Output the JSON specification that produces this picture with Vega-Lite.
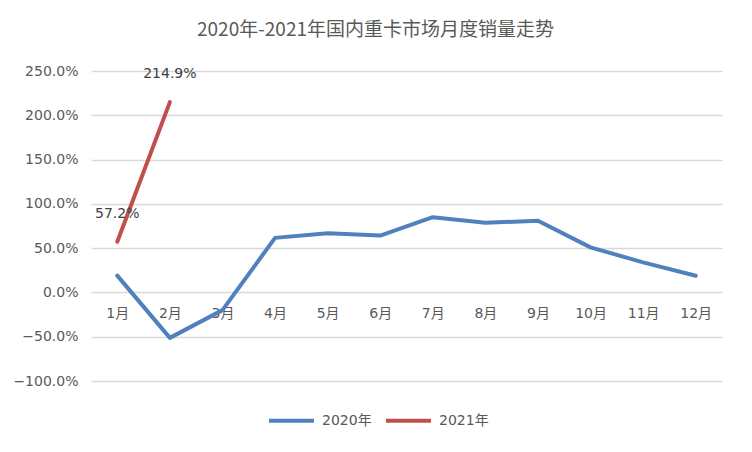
{
  "$schema": "https://vega.github.io/schema/vega-lite/v6.json",
  "width": 631,
  "height": 310,
  "autosize": {"type": "none"},
  "padding": {"left": 91, "top": 71, "right": 30, "bottom": 71},
  "background": "white",
  "config": {
    "view": {"stroke": null},
    "font": "DejaVu Sans, Noto Sans CJK SC",
    "text": {"font": "DejaVu Sans, Noto Sans CJK SC"}
  },
  "title": {
    "text": "2020年-2021年国内重卡市场月度销量走势",
    "fontSize": 19,
    "fontWeight": "normal",
    "color": "#595959",
    "font": "Noto Sans CJK SC",
    "anchor": "middle",
    "dx": -31,
    "offset": 24
  },
  "data": {
    "values": [
      {"month": "1月", "series": "2020年", "value": 0.19},
      {"month": "2月", "series": "2020年", "value": -0.513},
      {"month": "3月", "series": "2020年", "value": -0.2},
      {"month": "4月", "series": "2020年", "value": 0.616},
      {"month": "5月", "series": "2020年", "value": 0.668},
      {"month": "6月", "series": "2020年", "value": 0.642},
      {"month": "7月", "series": "2020年", "value": 0.85},
      {"month": "8月", "series": "2020年", "value": 0.786},
      {"month": "9月", "series": "2020年", "value": 0.809},
      {"month": "10月", "series": "2020年", "value": 0.509},
      {"month": "11月", "series": "2020年", "value": 0.339},
      {"month": "12月", "series": "2020年", "value": 0.188},
      {"month": "1月", "series": "2021年", "value": 0.572, "label": "57.2%"},
      {"month": "2月", "series": "2021年", "value": 2.149, "label": "214.9%"}
    ]
  },
  "encoding": {
    "x": {
      "field": "month",
      "type": "nominal",
      "sort": ["1月","2月","3月","4月","5月","6月","7月","8月","9月","10月","11月","12月"],
      "scale": {"type": "point", "padding": 0.5},
      "axis": {
        "title": null,
        "orient": "bottom",
        "offset": -89,
        "domain": false,
        "ticks": false,
        "labelAngle": 0,
        "labelFontSize": 14,
        "labelColor": "#595959",
        "labelPadding": 14,
        "grid": false
      }
    },
    "y": {
      "field": "value",
      "type": "quantitative",
      "scale": {"domain": [-1, 2.5], "nice": false},
      "axis": {
        "title": null,
        "values": [-1, -0.5, 0, 0.5, 1, 1.5, 2, 2.5],
        "format": ".1%",
        "domain": false,
        "ticks": false,
        "labelFontSize": 14,
        "labelColor": "#595959",
        "labelPadding": 13,
        "gridColor": "#d9d9d9",
        "gridWidth": 1.3
      }
    }
  },
  "layer": [
    {
      "mark": {"type": "line", "strokeWidth": 4, "strokeCap": "round", "strokeJoin": "round"},
      "encoding": {
        "color": {
          "field": "series",
          "type": "nominal",
          "scale": {"domain": ["2020年", "2021年"], "range": ["#4f81bd", "#c0504d"]},
          "legend": {
            "title": null,
            "orient": "none",
            "direction": "horizontal",
            "legendX": 176,
            "legendY": 325,
            "symbolType": "stroke",
            "symbolStrokeWidth": 4,
            "symbolSize": 2025,
            "labelFontSize": 14,
            "labelColor": "#595959",
            "labelOffset": 6,
            "columnPadding": 6
          }
        }
      }
    },
    {
      "transform": [{"filter": "datum.label != null"}],
      "mark": {"type": "text", "fontSize": 14, "color": "#404040", "dy": -28},
      "encoding": {"text": {"field": "label"}}
    }
  ]
}
